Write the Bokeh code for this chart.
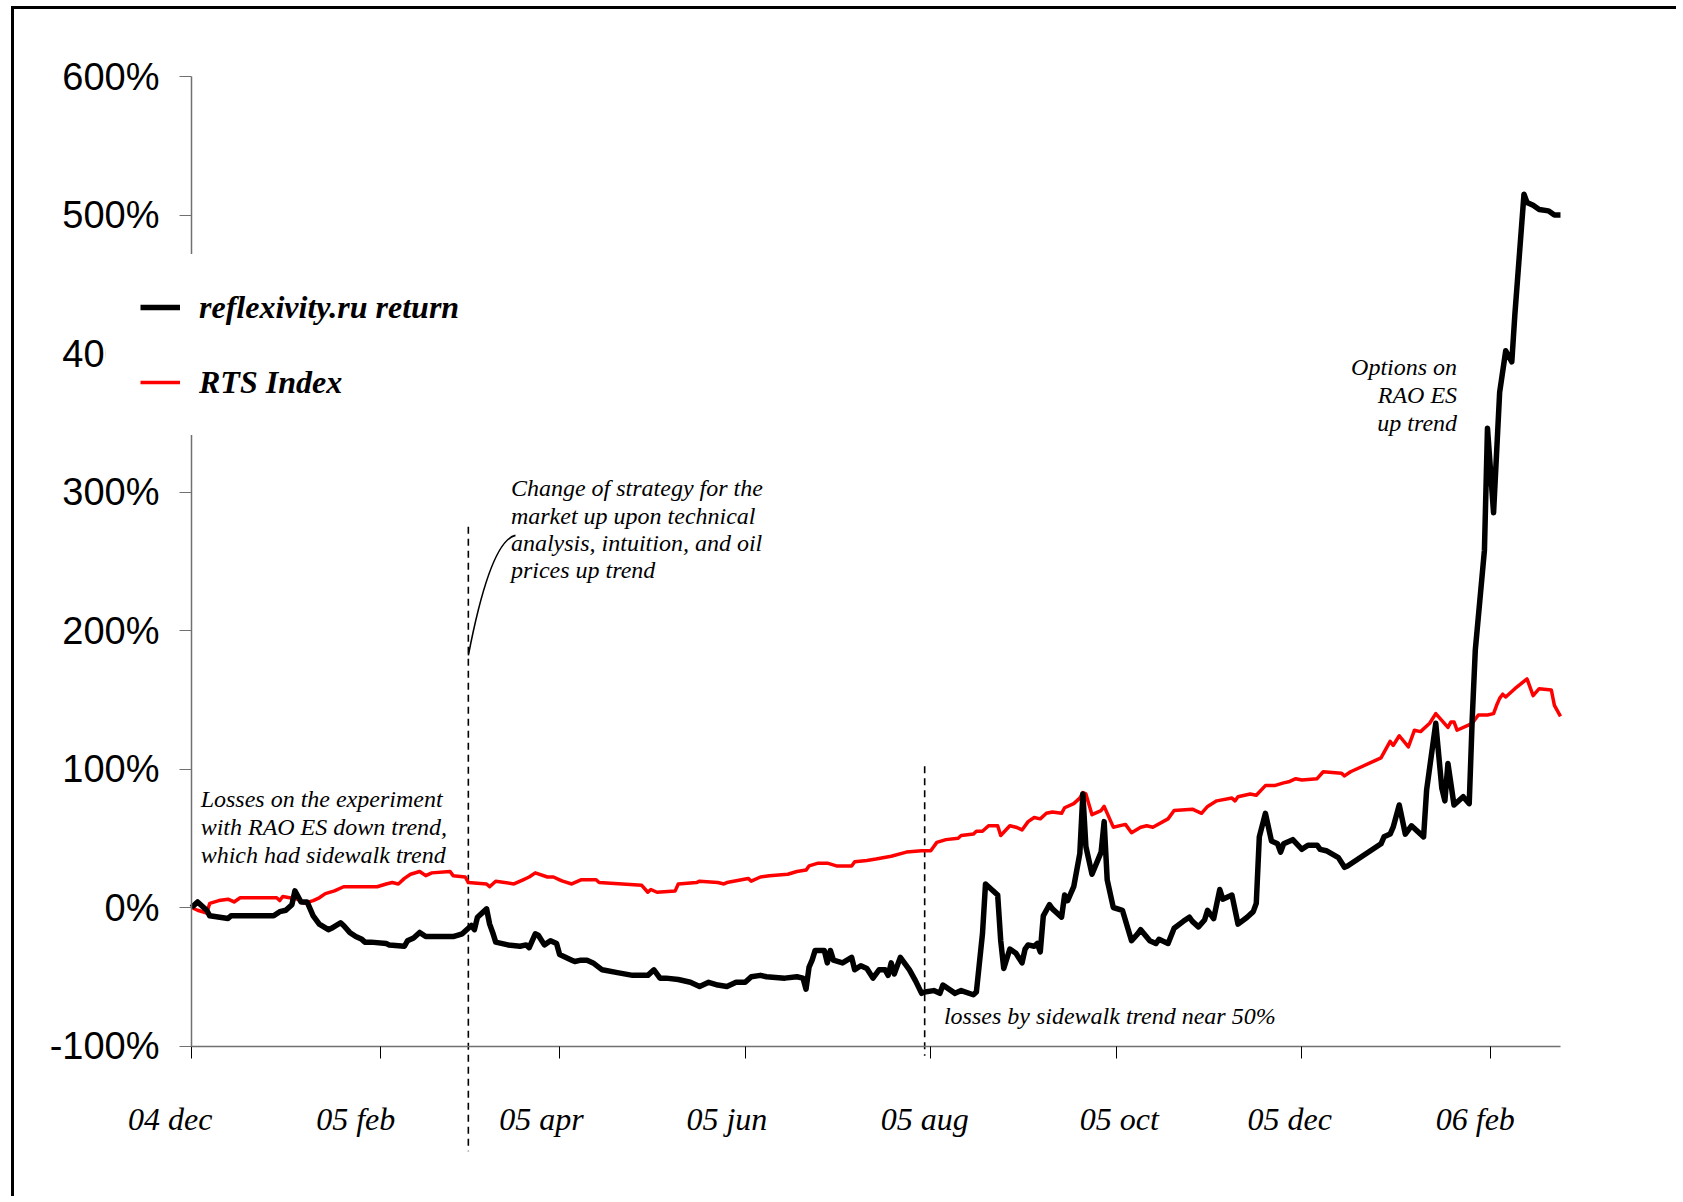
import pandas as pd
from bokeh.plotting import figure
from bokeh.models import (ColumnDataSource, FixedTicker, PrintfTickFormatter, Legend,
                          LegendItem, Range1d, DatetimeAxis)
from bokeh.core.properties import value
from bokeh.embed import file_html
from bokeh.resources import INLINE

# ---------------- data (percent returns) ----------------
fund_dates = [
    "2004-12-01", "2004-12-03", "2004-12-06", "2004-12-07", "2004-12-13", "2004-12-14",
    "2004-12-28", "2004-12-30", "2005-01-01", "2005-01-03", "2005-01-04", "2005-01-06",
    "2005-01-08", "2005-01-10", "2005-01-12", "2005-01-15", "2005-01-16", "2005-01-19",
    "2005-01-20", "2005-01-22", "2005-01-24", "2005-01-26", "2005-01-27", "2005-01-29",
    "2005-02-03", "2005-02-04", "2005-02-09", "2005-02-10", "2005-02-12", "2005-02-14",
    "2005-02-16", "2005-02-25", "2005-02-28", "2005-03-02", "2005-03-03", "2005-03-04",
    "2005-03-05", "2005-03-08", "2005-03-09", "2005-03-10", "2005-03-11", "2005-03-15",
    "2005-03-19", "2005-03-21", "2005-03-22", "2005-03-24", "2005-03-25", "2005-03-27",
    "2005-03-29", "2005-03-31", "2005-04-01", "2005-04-05", "2005-04-06", "2005-04-08",
    "2005-04-10", "2005-04-12", "2005-04-15", "2005-04-20", "2005-04-25", "2005-04-30",
    "2005-05-02", "2005-05-04", "2005-05-06", "2005-05-10", "2005-05-14", "2005-05-17",
    "2005-05-20", "2005-05-23", "2005-05-26", "2005-05-29", "2005-06-01", "2005-06-03",
    "2005-06-06", "2005-06-08", "2005-06-14", "2005-06-18", "2005-06-20", "2005-06-21",
    "2005-06-22", "2005-06-23", "2005-06-24", "2005-06-27", "2005-06-28", "2005-06-29",
    "2005-06-30", "2005-07-03", "2005-07-06", "2005-07-07", "2005-07-09", "2005-07-11",
    "2005-07-13", "2005-07-15", "2005-07-17", "2005-07-18", "2005-07-19", "2005-07-20",
    "2005-07-22", "2005-07-25", "2005-07-27", "2005-07-29", "2005-07-30", "2005-08-02",
    "2005-08-04", "2005-08-05", "2005-08-09", "2005-08-11", "2005-08-15", "2005-08-16",
    "2005-08-18", "2005-08-19", "2005-08-23", "2005-08-24", "2005-08-25", "2005-08-27",
    "2005-08-29", "2005-08-31", "2005-09-01", "2005-09-02", "2005-09-04", "2005-09-05",
    "2005-09-06", "2005-09-07", "2005-09-09", "2005-09-10", "2005-09-13", "2005-09-14",
    "2005-09-15", "2005-09-17", "2005-09-19", "2005-09-20", "2005-09-21", "2005-09-23",
    "2005-09-26", "2005-09-27", "2005-09-28", "2005-09-30", "2005-10-03", "2005-10-06",
    "2005-10-08", "2005-10-09", "2005-10-12", "2005-10-14", "2005-10-15", "2005-10-18",
    "2005-10-20", "2005-10-23", "2005-10-25", "2005-10-26", "2005-10-28", "2005-10-30",
    "2005-10-31", "2005-11-02", "2005-11-04", "2005-11-05", "2005-11-08", "2005-11-10",
    "2005-11-13", "2005-11-15", "2005-11-16", "2005-11-17", "2005-11-19", "2005-11-21",
    "2005-11-23", "2005-11-24", "2005-11-25", "2005-11-28", "2005-12-01", "2005-12-03",
    "2005-12-06", "2005-12-07", "2005-12-09", "2005-12-13", "2005-12-15", "2005-12-16",
    "2005-12-27", "2005-12-28", "2005-12-30", "2005-12-31", "2006-01-02", "2006-01-04",
    "2006-01-06", "2006-01-10", "2006-01-11", "2006-01-14", "2006-01-16", "2006-01-17",
    "2006-01-18", "2006-01-20", "2006-01-23", "2006-01-25", "2006-01-26", "2006-01-27",
    "2006-01-30", "2006-01-31", "2006-02-02", "2006-02-04", "2006-02-06", "2006-02-08",
    "2006-02-09", "2006-02-12", "2006-02-13", "2006-02-15", "2006-02-17", "2006-02-20",
    "2006-02-22", "2006-02-24",
]
fund_return = [
    0, 4, -2, -6, -8, -6,
    -6, -3, -2, 2, 12, 4,
    4, -6, -12, -16, -15, -11,
    -13, -18, -21, -23, -25, -25,
    -26, -27, -28, -24, -22, -18,
    -21, -21, -19, -15, -13, -16,
    -7, -1, -12, -18, -25, -27,
    -28, -27, -29, -19, -20, -27,
    -24, -26, -34, -38, -39, -38,
    -38, -40, -45, -47, -49, -49,
    -45, -51, -51, -52, -54, -57,
    -54, -56, -57, -54, -54, -50,
    -49, -50, -51, -50, -51, -59,
    -43, -38, -31, -31, -40, -31,
    -38, -40, -36, -45, -42, -44,
    -51, -45, -45, -49, -40, -48,
    -36, -45, -53, -62, -61, -60,
    -62, -56, -62, -60, -63, -61,
    -19, 17, 9, -24, -44, -30,
    -33, -40, -30, -27, -28, -26,
    -32, -6, 2, -1, -7, 9,
    5, 15, 39, 82, 44, 24,
    40, 62, 20, 0, -2, -24,
    -19, -16, -24, -26, -23, -26,
    -15, -10, -7, -10, -14, -9,
    -2, -8, 13, 6, 9, -12,
    -7, -3, 3, 51, 68, 48,
    46, 40, 46, 49, 42, 45,
    45, 42, 41, 36, 29, 30,
    46, 51, 53, 58, 74, 53,
    59, 51, 85, 133, 86, 77,
    104, 74, 80, 75, 137, 186,
    258, 346, 285, 372, 402, 394,
    428, 515, 509, 507, 504, 503,
    500, 500,
]

rts_dates = [
    "2004-12-01", "2004-12-03", "2004-12-06", "2004-12-07", "2004-12-10", "2004-12-13",
    "2004-12-15", "2004-12-17", "2004-12-29", "2004-12-30", "2004-12-31", "2005-01-05",
    "2005-01-07", "2005-01-10", "2005-01-12", "2005-01-14", "2005-01-17", "2005-01-20",
    "2005-01-31", "2005-02-03", "2005-02-05", "2005-02-07", "2005-02-09", "2005-02-11",
    "2005-02-14", "2005-02-16", "2005-02-18", "2005-02-24", "2005-02-25", "2005-03-01",
    "2005-03-02", "2005-03-08", "2005-03-09", "2005-03-11", "2005-03-17", "2005-03-20",
    "2005-03-22", "2005-03-24", "2005-03-28", "2005-03-30", "2005-04-01", "2005-04-02",
    "2005-04-05", "2005-04-08", "2005-04-13", "2005-04-14", "2005-04-28", "2005-04-30",
    "2005-05-01", "2005-05-03", "2005-05-09", "2005-05-10", "2005-05-16", "2005-05-17",
    "2005-05-23", "2005-05-25", "2005-05-26", "2005-06-02", "2005-06-03", "2005-06-06",
    "2005-06-09", "2005-06-15", "2005-06-18", "2005-06-21", "2005-06-22", "2005-06-25",
    "2005-06-28", "2005-07-01", "2005-07-06", "2005-07-07", "2005-07-11", "2005-07-14",
    "2005-07-19", "2005-07-24", "2005-07-29", "2005-08-01", "2005-08-03", "2005-08-06",
    "2005-08-10", "2005-08-11", "2005-08-15", "2005-08-16", "2005-08-18", "2005-08-20",
    "2005-08-23", "2005-08-24", "2005-08-27", "2005-08-29", "2005-08-31", "2005-09-02",
    "2005-09-04", "2005-09-06", "2005-09-08", "2005-09-10", "2005-09-13", "2005-09-14",
    "2005-09-17", "2005-09-19", "2005-09-20", "2005-09-21", "2005-09-23", "2005-09-26",
    "2005-09-27", "2005-09-30", "2005-10-04", "2005-10-06", "2005-10-09", "2005-10-11",
    "2005-10-13", "2005-10-18", "2005-10-20", "2005-10-26", "2005-10-29", "2005-10-31",
    "2005-11-03", "2005-11-08", "2005-11-09", "2005-11-10", "2005-11-14", "2005-11-16",
    "2005-11-19", "2005-11-22", "2005-11-25", "2005-11-27", "2005-11-29", "2005-12-01",
    "2005-12-06", "2005-12-08", "2005-12-14", "2005-12-15", "2005-12-17", "2005-12-27",
    "2005-12-30", "2005-12-31", "2006-01-02", "2006-01-05", "2006-01-07", "2006-01-09",
    "2006-01-12", "2006-01-14", "2006-01-18", "2006-01-19", "2006-01-20", "2006-01-21",
    "2006-01-26", "2006-01-28", "2006-01-31", "2006-02-02", "2006-02-03", "2006-02-04",
    "2006-02-05", "2006-02-06", "2006-02-09", "2006-02-13", "2006-02-15", "2006-02-17",
    "2006-02-21", "2006-02-22", "2006-02-24",
]
rts_return = [
    0, -2, -4, 3, 5, 6,
    4, 7, 7, 5, 8, 6,
    3, 5, 7, 10, 12, 15,
    15, 17, 18, 17, 21, 24,
    26, 23, 25, 26, 23, 22,
    18, 17, 15, 19, 17, 20,
    22, 25, 22, 22, 20, 19,
    17, 20, 20, 18, 16, 11,
    13, 11, 12, 17, 18, 19,
    18, 17, 18, 21, 19, 22,
    23, 24, 26, 27, 30, 32,
    32, 30, 30, 33, 34, 35,
    37, 40, 41, 41, 47, 49,
    50, 52, 53, 55, 55, 59,
    59, 52, 59, 58, 56, 62,
    65, 64, 68, 69, 68, 72,
    75, 79, 83, 82, 67, 70,
    73, 58, 60, 54, 58, 59,
    58, 64, 70, 71, 68, 73,
    77, 79, 77, 80, 82, 81,
    88, 88, 90, 91, 93, 92,
    93, 98, 97, 95, 98, 108,
    120, 117, 124, 116, 128, 127,
    133, 140, 130, 134, 134, 128,
    133, 139, 139, 140, 146, 151,
    154, 152, 158, 165, 153, 158,
    157, 146, 138,
]

# x axis: tick marks at month starts, labels placed (as in the original) slightly left of them
x_tick_dates = ["2004-12-01", "2005-02-01", "2005-04-01", "2005-06-01",
                "2005-08-01", "2005-10-01", "2005-12-01", "2006-02-01"]
x_label_dates = ["2004-11-24", "2005-01-24", "2005-03-26", "2005-05-26",
                 "2005-07-30", "2005-10-02", "2005-11-27", "2006-01-27"]
x_tick_labels = ["04 dec", "05 feb", "05 apr", "05 jun", "05 aug", "05 oct", "05 dec", "06 feb"]
y_ticks = [-100, 0, 100, 200, 300, 400, 500, 600]

series_names = ["reflexivity.ru return", "RTS Index"]

# annotations (data coordinates)
note_losses = ["Losses on the experiment", "with RAO ES down trend,", "which had sidewalk trend"]
note_losses_y = [78, 58, 38]
note_losses_x = "2004-12-04"

note_change = ["Change of strategy for the", "market up upon technical",
               "analysis, intuition, and oil", "prices up trend"]
note_change_y = [303, 283, 263.5, 243.5]
note_change_x = "2005-03-16"

note_options = ["Options on", "RAO ES", "up trend"]
note_options_y = [390, 370, 350]
note_options_x = "2006-01-21"

note_sidewalk = ["losses by sidewalk trend near 50%"]
note_sidewalk_y = [-78]
note_sidewalk_x = "2005-08-05 08:00"

marker_x = ["2005-03-02", "2005-07-30"]
marker_top = [275, 102]
marker_bottom = [-176, -107]

# ---------------- layout geometry ----------------
W, H = 1665, 1190
axis_x_px, axis_top_px = 177, 67          # canvas px of the 04 dec / 600% corner
px_per_pct = 1.385
px_per_day = 3.0422

origin = pd.Timestamp("2004-12-01")
axis_end = pd.Timestamp("2006-02-24")
x_start = origin - pd.Timedelta(days=axis_x_px / px_per_day)
x_end = origin + pd.Timedelta(days=(W - axis_x_px) / px_per_day)
y_end = 600 + axis_top_px / px_per_pct
y_start = 600 - (H - axis_top_px) / px_per_pct

p = figure(width=W, height=H, x_axis_type="datetime", title=None,
           x_range=Range1d(x_start, x_end), y_range=Range1d(y_start, y_end),
           output_backend="svg", toolbar_location=None, min_border=0)
p.styles = {"border-left": "3px solid black", "border-top": "3px solid black",
            "margin-left": "11px", "margin-top": "6px"}
p.outline_line_color = None
p.grid.visible = False
p.background_fill_color = "white"
p.border_fill_color = "white"

# marker lines and connector
p.segment(x0=pd.to_datetime(marker_x), y0=marker_top, x1=pd.to_datetime(marker_x), y1=marker_bottom,
          line_color="black", line_width=1.6, line_dash="7 5")
p.quadratic(x0=[pd.Timestamp("2005-03-17 12:00")], y0=[268.7],
            x1=[pd.Timestamp("2005-03-02")], y1=[182],
            cx=[pd.Timestamp("2005-03-09 07:00")], cy=[265],
            line_color="black", line_width=1.6)

rts_src = ColumnDataSource(dict(x=pd.to_datetime(rts_dates), y=rts_return))
fund_src = ColumnDataSource(dict(x=pd.to_datetime(fund_dates), y=fund_return))
r_rts = p.line("x", "y", source=rts_src, line_color="#ff0000", line_width=3.5, line_join="round")
r_fund = p.line("x", "y", source=fund_src, line_color="black", line_width=5.5, line_join="round")

txt = dict(text_font=value("Liberation Serif"), text_font_style="italic",
           text_font_size="24px", text_color="black", text_baseline="middle")
p.text(x=[pd.Timestamp(note_losses_x)] * len(note_losses), y=note_losses_y, text=note_losses,
       text_align="left", **txt)
p.text(x=[pd.Timestamp(note_change_x)] * len(note_change), y=note_change_y, text=note_change,
       text_align="left", **txt)
p.text(x=[pd.Timestamp(note_options_x)] * len(note_options), y=note_options_y, text=note_options,
       text_align="right", **txt)
p.text(x=[pd.Timestamp(note_sidewalk_x)], y=note_sidewalk_y, text=note_sidewalk,
       text_align="left", **txt)

# x axis with labels (no line / tick marks)
label_ms = [pd.Timestamp(d).timestamp() * 1000.0 for d in x_label_dates]
xa = p.xaxis[0]
xa.ticker = FixedTicker(ticks=label_ms)
xa.major_label_overrides = {t: lab for t, lab in zip(label_ms, x_tick_labels)}
xa.fixed_location = -100
xa.axis_line_color = None
xa.major_tick_line_color = None
xa.major_tick_in = 0
xa.major_tick_out = 0
xa.minor_tick_line_color = None
xa.major_label_text_font = "Liberation Serif"
xa.major_label_text_font_style = "italic"
xa.major_label_text_font_size = "32px"
xa.major_label_text_color = "black"
xa.major_label_standoff = 55

# x axis line and month tick marks
tick_ms = [pd.Timestamp(d).timestamp() * 1000.0 for d in x_tick_dates]
xt = DatetimeAxis(ticker=FixedTicker(ticks=tick_ms),
                  major_label_overrides={t: "" for t in tick_ms},
                  fixed_location=-100, bounds=(origin, axis_end),
                  axis_line_color="#707070", axis_line_width=1.5,
                  major_tick_line_color="black", major_tick_in=0, major_tick_out=12,
                  minor_tick_line_color=None)
p.add_layout(xt, "below")

ya = p.yaxis[0]
ya.ticker = FixedTicker(ticks=y_ticks)
ya.formatter = PrintfTickFormatter(format="%d%%")
ya.fixed_location = origin.timestamp() * 1000.0
ya.bounds = (-100, 600)
ya.axis_line_color = "#707070"
ya.axis_line_width = 1.5
ya.major_tick_line_color = "#707070"
ya.major_tick_in = 0
ya.major_tick_out = 12
ya.minor_tick_line_color = None
ya.major_label_text_font = "Liberation Sans"
ya.major_label_text_font_size = "38px"
ya.major_label_text_color = "black"
ya.major_label_standoff = 20

# legend (white box covering part of the y axis, like the original)
legend_left, legend_bottom = 92, 426   # canvas px
legend = Legend(items=[LegendItem(label=series_names[0], renderers=[r_fund]),
                       LegendItem(label=series_names[1], renderers=[r_rts])],
                location=(legend_left, H - legend_bottom),
                label_text_font="Liberation Serif", label_text_font_style="bold italic",
                label_text_font_size="32px", label_text_color="black",
                glyph_width=40, glyph_height=38, label_height=38, label_standoff=19,
                spacing=37, padding=34, margin=0,
                border_line_alpha=0, background_fill_color="white", background_fill_alpha=1.0)
p.add_layout(legend)

open("out.html", "w").write(file_html(p, INLINE))
